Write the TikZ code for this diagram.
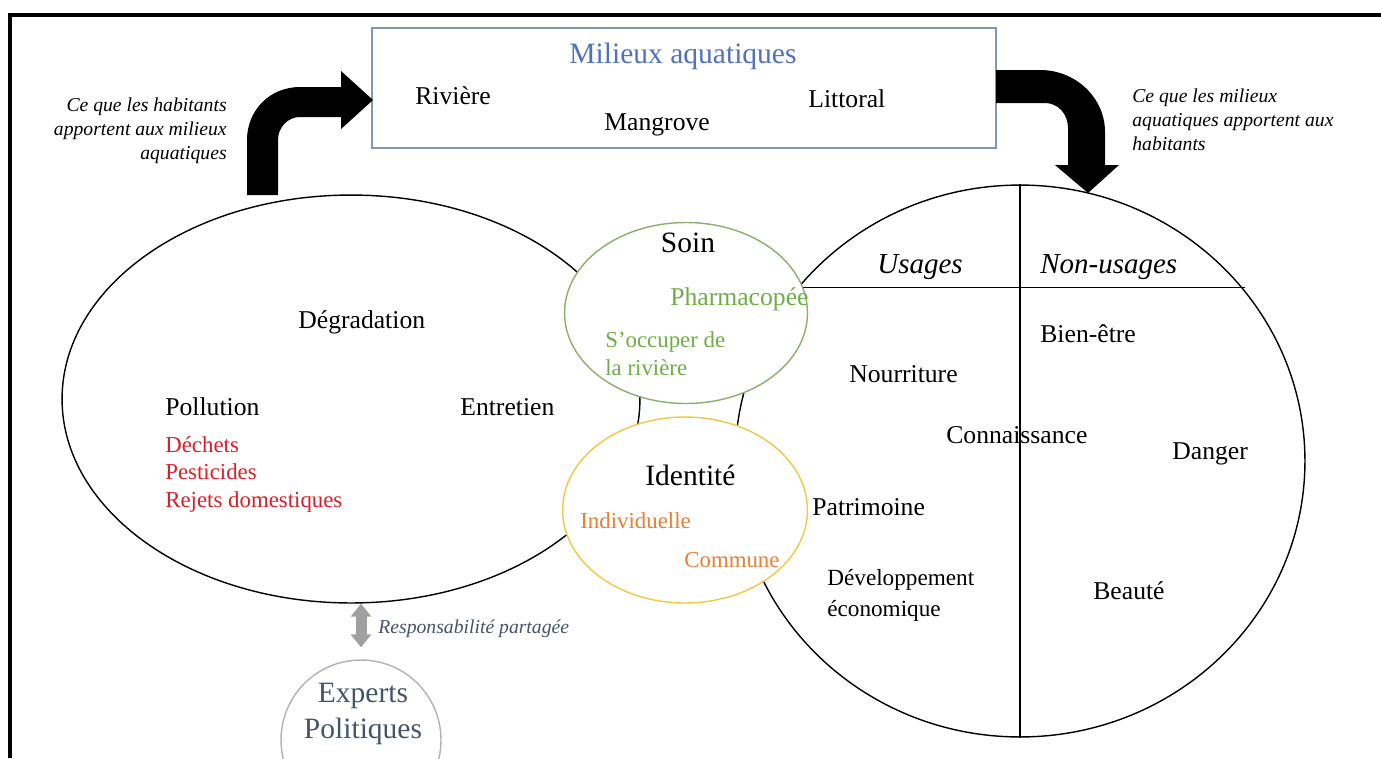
\documentclass[tikz,border=0pt]{standalone}
\usepackage{fontspec}
\setmainfont{Liberation Serif}
\usetikzlibrary{shapes.geometric,arrows.meta}

\definecolor{titleblue}{RGB}{79,113,190}
\definecolor{boxline}{RGB}{132,151,176}
\definecolor{soingreen}{RGB}{112,173,71}
\definecolor{soinline}{RGB}{140,175,110}
\definecolor{identline}{RGB}{240,200,70}
\definecolor{identorange}{RGB}{237,125,49}
\definecolor{pollred}{RGB}{220,30,40}
\definecolor{slate}{RGB}{68,84,106}
\definecolor{respgray}{RGB}{160,160,160}

\tikzset{
  txt/.style={inner sep=0pt, anchor=base west, font=\fontsize{14.6}{17}\selectfont},
  smalltxt/.style={txt, font=\fontsize{13}{16}\selectfont},
  headtxt/.style={txt, font=\fontsize{16.8}{20}\selectfont},
  note/.style={inner sep=0pt, font=\fontsize{11.2}{13.8}\selectfont\itshape},
  zone/.style={ellipse, draw, line width=0.8pt, inner sep=0pt},
}

\begin{document}
\begin{tikzpicture}[x=0.02cm, y=-0.02cm]
    \useasboundingbox (0,0) rectangle (1381,758);
    \clip (0,0) rectangle (1381,758);

    % frame
    \draw[line width=2.3pt] (10,758) -- (10,15) -- (1381,15);

    % milieux aquatiques
    \node[draw=boxline, line width=0.8pt, minimum width=12.48cm, minimum height=2.4cm, inner sep=0pt] (aqua) at (684,88) {};
    \node[headtxt, anchor=base, text=titleblue] (aquaT) at (683,63) {Milieux aquatiques};
    \node[txt] (riv) at (415,104) {Rivière};
    \node[txt] (mang) at (604,130) {Mangrove};
    \node[txt] (litt) at (808,107) {Littoral};

    % habitants / milieux
    \node[zone, minimum width=11.56cm, minimum height=8.16cm] (L) at (351,399) {};
    \node[zone, minimum width=11.4cm, minimum height=11.04cm] (R) at (1020,461) {};
    \draw[line width=0.8pt] (R.north) -- (R.south);
    \coordinate (chordL) at (R.142.4);
    \draw[line width=0.8pt] (chordL) -- (R.37.6 |- chordL);

    \node[zone, draw=soinline, fill=white, minimum width=4.86cm, minimum height=3.62cm] (soin) at (686,313) {};
    \node[zone, draw=identline, fill=white, minimum width=4.9cm, minimum height=3.72cm] (ident) at (685,510) {};
    \node[circle, draw=gray!60, line width=0.8pt, minimum size=3.2cm, inner sep=0pt] (E) at (361,740) {};

    % big arrows
    \fill (247,195) -- (247,140) .. controls (247,110) and (270,87) .. (300,87) -- (341,87) -- (341,71)
        -- (373,100) -- (341,129) -- (341,117) -- (300,117) .. controls (288,117) and (278,127) .. (278,140)
        -- (278,195) -- cycle;
    \fill (996,70) -- (1040,70) .. controls (1076,70) and (1105,98) .. (1105,132) -- (1105,165) -- (1119,165)
        -- (1088,193) -- (1055,165) -- (1068,165) -- (1068,128) .. controls (1068,114) and (1058,103) .. (1045,103)
        -- (996,103) -- cycle;
    \node[note, anchor=north east, align=right] (noteL) at (227,97) {Ce que les habitants\\apportent aux milieux\\aquatiques};
    \node[note, anchor=north west, align=left] (noteR) at (1132,88) {Ce que les milieux\\aquatiques apportent aux\\habitants};

    % responsabilite
    \draw[respgray, line width=0.22cm, {Triangle[width=0.4cm,length=0.26cm]}-{Triangle[width=0.4cm,length=0.26cm]}, shorten >=0.24cm] (E.north |- L.south) -- (E.north);
    \node[note, anchor=base west, text=slate] (resp) at (378,633) {Responsabilité partagée};
    \node[headtxt, anchor=base, text=slate] (exp1) at (363,702) {Experts};
    \node[headtxt, anchor=base, text=slate] (exp2) at (363,738) {Politiques};

    % left zone
    \node[txt] (degr) at (298,328) {Dégradation};
    \node[txt] (poll) at (165,415) {Pollution};
    \node[txt] (entr) at (460,415) {Entretien};
    \foreach \w/\y [count=\i] in {Déchets/452, Pesticides/479, Rejets domestiques/507}
        \node[smalltxt, text=pollred] (poll\i) at (165,\y) {\w};

    % soin
    \node[headtxt, anchor=base] (soinT) at (688,252) {Soin};
    \node[txt, text=soingreen] (pharma) at (670,305) {Pharmacopée};
    \node[smalltxt, text=soingreen, anchor=north west, align=left] (occup) at (605,331) {S’occuper de\\la rivière};

    % identite
    \node[headtxt] (identT) at (645,485) {Identité};
    \node[smalltxt, text=identorange] (indiv) at (580,528) {Individuelle};
    \node[smalltxt, text=identorange] (comm) at (684,567) {Commune};

    % right zone
    \node[headtxt, font=\fontsize{16.5}{20}\selectfont\itshape] (usage) at (877,273) {Usages};
    \node[headtxt, font=\fontsize{16.5}{20}\selectfont\itshape] (nonusage) at (1040,273) {Non-usages};
    \node[txt] (bien) at (1040,342) {Bien-être};
    \node[txt] (nour) at (849,382) {Nourriture};
    \node[txt] (conn) at (946,443) {Connaissance};
    \node[txt] (dang) at (1172,459) {Danger};
    \node[txt] (patr) at (812,515) {Patrimoine};
    \node[txt, font=\fontsize{13.2}{17.6}\selectfont, anchor=north west, align=left] (dev) at (827,569) {Développement\\économique};
    \node[txt] (beau) at (1093,599) {Beauté};
\end{tikzpicture}
\end{document}
